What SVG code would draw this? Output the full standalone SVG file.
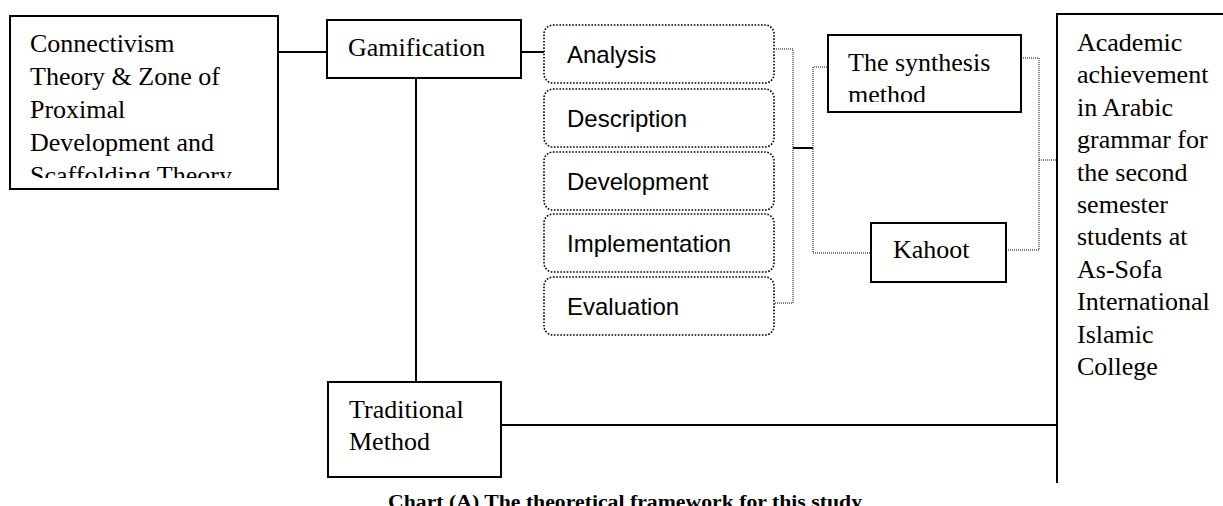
<svg xmlns="http://www.w3.org/2000/svg" width="1223" height="506" viewBox="0 0 1223 506">
<style>
.box{fill:#fff;stroke:#000;stroke-width:2}
.phase{fill:#fff;stroke:#000;stroke-width:1.6;stroke-dasharray:1.6 1.6}
.t{font-family:"Liberation Serif","Times New Roman",serif;font-size:26px;fill:#000}
.s{font-family:"Liberation Sans",Arial,sans-serif;font-size:24px;fill:#000}
.solid{fill:none;stroke:#000;stroke-width:2}
.dot{fill:none;stroke:#000;stroke-width:1;stroke-dasharray:1 1}
.cap{font-family:"Liberation Serif","Times New Roman",serif;font-size:18px;font-weight:bold;fill:#000}
</style>
<defs>
<clipPath id="clipTheory"><rect x="11" y="17" width="266" height="161"/></clipPath>
<clipPath id="clipSynth"><rect x="829" y="36" width="191" height="66"/></clipPath>
</defs>
<rect width="1223" height="506" fill="#fff"/>
<g id="connectors">
<line class="solid" x1="278" y1="52" x2="327" y2="52"/>
<line class="solid" x1="521" y1="52" x2="544" y2="52"/>
<line class="solid" x1="416" y1="78" x2="416" y2="382"/>
<line class="solid" x1="501" y1="425" x2="1057" y2="425"/>
<line class="solid" x1="793" y1="148" x2="813" y2="148"/>
<path class="dot" d="M774,49 H793 V303 H765"/>
<path class="dot" d="M829,67 H813 V253 H871"/>
<path class="dot" d="M1021,58 H1039 V250 H1006"/>
<line class="dot" x1="1039" y1="160" x2="1057" y2="160"/>
</g>
<g id="theory">
<rect class="box" x="10" y="16" width="268" height="173"/>
<text class="t" clip-path="url(#clipTheory)"><tspan x="30" y="52">Connectivism</tspan><tspan x="30" y="85">Theory &amp; Zone of</tspan><tspan x="30" y="118">Proximal</tspan><tspan x="30" y="151">Development and</tspan><tspan x="30" y="184">Scaffolding Theory</tspan></text>
</g>
<g id="gamification">
<rect class="box" x="327" y="20" width="194" height="58"/>
<text class="t" x="348" y="56">Gamification</text>
</g>
<g id="analysis">
<rect class="phase" x="544" y="25" width="230" height="58" rx="9"/>
<text class="s" x="567" y="63">Analysis</text>
</g>
<g id="description">
<rect class="phase" x="544" y="89" width="230" height="58" rx="9"/>
<text class="s" x="567" y="127">Description</text>
</g>
<g id="development">
<rect class="phase" x="544" y="152" width="230" height="58" rx="9"/>
<text class="s" x="567" y="190">Development</text>
</g>
<g id="implementation">
<rect class="phase" x="544" y="214" width="230" height="58" rx="9"/>
<text class="s" x="567" y="252">Implementation</text>
</g>
<g id="evaluation">
<rect class="phase" x="544" y="277" width="230" height="58" rx="9"/>
<text class="s" x="567" y="315">Evaluation</text>
</g>
<g id="synthesis">
<rect class="box" x="828" y="35" width="193" height="77"/>
<text class="t" clip-path="url(#clipSynth)"><tspan x="848" y="71">The synthesis</tspan><tspan x="848" y="103">method</tspan></text>
</g>
<g id="kahoot">
<rect class="box" x="871" y="223" width="135" height="59"/>
<text class="t" x="893" y="258">Kahoot</text>
</g>
<g id="traditional">
<rect class="box" x="328" y="382" width="173" height="95"/>
<text class="t"><tspan x="349" y="418">Traditional</tspan><tspan x="349" y="450">Method</tspan></text>
</g>
<g id="achievement">
<path class="solid" d="M1224,14 H1057 V483"/>
<text class="t"><tspan x="1077" y="51">Academic</tspan><tspan x="1077" y="83.4">achievement</tspan><tspan x="1077" y="115.8">in Arabic</tspan><tspan x="1077" y="148.2">grammar for</tspan><tspan x="1077" y="180.6">the second</tspan><tspan x="1077" y="213">semester</tspan><tspan x="1077" y="245.4">students at</tspan><tspan x="1077" y="277.8">As-Sofa</tspan><tspan x="1077" y="310.2">International</tspan><tspan x="1077" y="342.6">Islamic</tspan><tspan x="1077" y="375">College</tspan></text>
</g>
<text class="cap" x="388" y="508" textLength="474" lengthAdjust="spacingAndGlyphs">Chart (A) The theoretical framework for this study</text>
</svg>
